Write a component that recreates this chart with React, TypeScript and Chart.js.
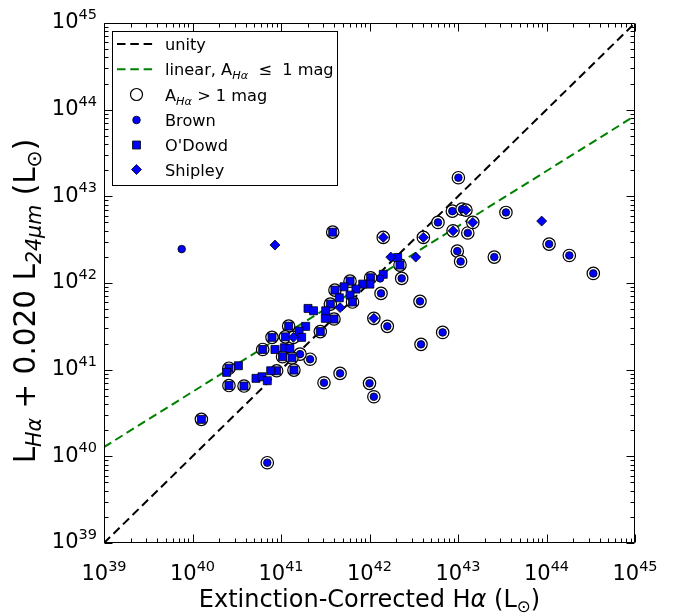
import React, { useEffect, useRef } from 'react';
import { Chart, registerables } from 'chart.js';

Chart.register(...registerables);

// ---------------- data ----------------
const brownX = [7.55e39, 1.01e43, 1.07e44, 1.81e44, 3.38e44, 3.48e43, 2.57e43, 9.82e42, 1.07e43, 3.72e42, 6.71e42, 3.82e42, 8.63e42, 1.11e43, 5.94e42, 1.29e43, 2.31e42, 1.35e42, 1.59e42, 2.13e41, 1.64e41, 4.65e41, 3.06e41, 1.0e42, 1.12e42, 7.0e40, 1.32e42];
const brownY = [2.46e42, 1.64e43, 2.81e42, 2.08e42, 1.29e42, 6.52e42, 1.99e42, 2.33e42, 1.77e42, 6.14e41, 2.69e41, 1.96e41, 6.75e42, 7.11e42, 5.0e42, 3.78e42, 1.13e42, 7.59e41, 3.16e41, 1.32e41, 1.51e41, 9.06e40, 7.06e40, 6.95e40, 4.87e40, 8.44e39, 1.13e42];
const brownExt = [0, 1, 1, 1, 1, 1, 1, 1, 1, 1, 1, 1, 1, 1, 1, 1, 1, 1, 1, 1, 1, 1, 1, 1, 1, 1, 0];

const odowdX = [3.84e41, 2.08e42, 2.21e42, 1.43e42, 1.03e42, 1.01e42, 8.38e41, 6.03e41, 5.15e41, 4.07e41, 7.03e41, 6.03e41, 6.43e41, 4.56e41, 3.61e41, 3.97e41, 3.17e41, 3.2e41, 2.02e41, 2.33e41, 2.78e41, 1.9e41, 1.22e41, 1.6e41, 1.12e41, 7.91e40, 1.71e41, 6.21e40, 8.55e40, 1.09e41, 1.26e41, 1.04e41, 1.33e41, 1.4e41, 8.93e40, 7.65e40, 5.22e40, 6.1e40, 7.0e40, 3.82e40, 2.58e40, 2.58e40, 3.3e40, 2.43e40, 1.26e40];
const odowdY = [3.86e42, 1.97e42, 1.61e42, 1.26e42, 1.15e42, 9.71e41, 9.71e41, 1.05e42, 9.04e41, 8.28e41, 8.51e41, 7.25e41, 6.03e41, 6.75e41, 5.71e41, 3.84e41, 3.91e41, 4.78e41, 5.09e41, 4.78e41, 2.75e41, 3.16e41, 3.18e41, 2.79e41, 2.39e41, 2.36e41, 2.36e41, 1.71e41, 1.71e41, 1.79e41, 1.76e41, 1.41e41, 1.37e41, 9.89e40, 9.71e40, 9.71e40, 7.94e40, 8.28e40, 7.45e40, 6.47e40, 6.56e40, 1.04e41, 1.11e41, 9.31e40, 2.67e40];
const odowdExt = [1, 0, 1, 0, 1, 0, 0, 1, 0, 1, 0, 0, 1, 0, 1, 1, 0, 0, 0, 0, 1, 0, 1, 0, 1, 1, 0, 1, 0, 0, 0, 1, 1, 1, 1, 0, 0, 0, 0, 1, 1, 1, 0, 0, 1];

const shipleyX = [8.55e40, 8.83e43, 1.23e43, 1.47e43, 8.79e42, 4.06e42, 3.33e42, 1.43e42, 1.74e42, 1.12e42, 4.65e41, 1.38e41];
const shipleyY = [2.74e42, 5.18e42, 6.93e42, 5.0e42, 4.0e42, 3.36e42, 1.99e42, 3.36e42, 1.99e42, 3.91e41, 5.2e41, 2.36e41];
const shipleyExt = [0, 0, 1, 1, 1, 1, 0, 1, 0, 1, 0, 1];

const unityX = [1e39, 1e45];
const unityY = [1e39, 1e45];
const linearX = [1e39, 1e45];
const linearY = [1.28e40, 8.5e43];

const tickExponents = [39, 40, 41, 42, 43, 44, 45];
const minorMultipliers = [2, 3, 4, 5, 6, 7, 8, 9];

// ---------------- helpers ----------------
const FONT = '"DejaVu Sans", "Liberation Sans", sans-serif';
type Seg = { t: string; size: number; it?: boolean; dy?: number };

function fontOf(s: Seg) {
  return `${s.it ? 'italic ' : ''}${s.size}px ${FONT}`;
}
function drawSegs(ctx: CanvasRenderingContext2D, segs: Seg[], x: number, y: number, align: 'left' | 'center' | 'right') {
  const widths = segs.map((s) => {
    ctx.font = fontOf(s);
    return ctx.measureText(s.t).width;
  });
  const total = widths.reduce((a, b) => a + b, 0);
  let cx = align === 'left' ? x : align === 'center' ? x - total / 2 : x - total;
  ctx.textAlign = 'left';
  ctx.textBaseline = 'alphabetic';
  segs.forEach((s, i) => {
    ctx.font = fontOf(s);
    ctx.fillText(s.t, cx, y + (s.dy || 0));
    cx += widths[i];
  });
}

function pts(xs: number[], ys: number[]) {
  return xs.map((x, i) => ({ x, y: ys[i] }));
}
function ringPts(xs: number[], ys: number[], f: number[]) {
  return xs.map((x, i) => ({ x, y: ys[i] })).filter((_, i) => f[i] === 1);
}

const BLUE = '#0000ff';
const GREEN = '#008000';
const DASH = [8.5, 4.8];

const framePlugin = {
  id: 'mplFrame',
  afterDatasetsDraw(chart: any) {
    const ctx: CanvasRenderingContext2D = chart.ctx;
    const { left, right, top, bottom } = chart.chartArea;
    const xs = chart.scales.x;
    const ys = chart.scales.y;
    ctx.save();
    ctx.strokeStyle = '#000';
    ctx.lineWidth = 1;
    ctx.beginPath();
    const L = Math.round(left) + 0.5, R = Math.round(right) - 0.5, T = Math.round(top) + 0.5, B = Math.round(bottom) - 0.5;
    ctx.rect(L, T, R - L, B - T);
    ctx.stroke();
    // ticks
    ctx.beginPath();
    const tick = (v: number, len: number) => {
      const px = Math.round(xs.getPixelForValue(v)) + 0.5;
      ctx.moveTo(px, B); ctx.lineTo(px, B - len);
      ctx.moveTo(px, T); ctx.lineTo(px, T + len);
      const py = Math.round(ys.getPixelForValue(v)) + 0.5;
      ctx.moveTo(L, py); ctx.lineTo(L + len, py);
      ctx.moveTo(R, py); ctx.lineTo(R - len, py);
    };
    tickExponents.forEach((e, i) => {
      tick(Math.pow(10, e), 8);
      if (i < tickExponents.length - 1) {
        minorMultipliers.forEach((m) => tick(m * Math.pow(10, e), 4));
      }
    });
    ctx.stroke();
    ctx.restore();
  },
  afterDraw(chart: any) {
    const ctx: CanvasRenderingContext2D = chart.ctx;
    const { left, right } = chart.chartArea;
    const xs = chart.scales.x;
    const ys = chart.scales.y;
    ctx.save();
    ctx.fillStyle = '#000';
    // tick labels
    tickExponents.forEach((e) => {
      const v = Math.pow(10, e);
      const px = xs.getPixelForValue(v);
      drawSegs(ctx, [{ t: '10', size: 21 }, { t: String(e), size: 14.5, dy: -9.3 }], px, 580, 'center');
      const py = ys.getPixelForValue(v);
      drawSegs(ctx, [{ t: '10', size: 21 }, { t: String(e), size: 14.5, dy: -9.3 }], left - 7, py + 5.3, 'right');
    });
    // x axis title
    drawSegs(
      ctx,
      [
        { t: 'Extinction-Corrected H', size: 24 },
        { t: 'α', size: 24, it: true },
        { t: ' (L', size: 24 },
        { t: '⊙', size: 16.8, dy: 5 },
        { t: ')', size: 24 },
      ],
      (left + right) / 2,
      607,
      'center'
    );
    // y axis title
    ctx.save();
    ctx.translate(35, 301);
    ctx.rotate(-Math.PI / 2);
    drawSegs(
      ctx,
      [
        { t: 'L', size: 29.5 },
        { t: 'Hα', size: 20.6, it: true, dy: 6 },
        { t: ' + 0.020 L', size: 29.5 },
        { t: '24μm', size: 20.6, it: true, dy: 6 },
        { t: ' (L', size: 29.5 },
        { t: '⊙', size: 20.6, dy: 6 },
        { t: ')', size: 29.5 },
      ],
      0,
      0,
      'center'
    );
    ctx.restore();

    // legend
    const bx = 112.5, by = 31.5, bw = 225, bh = 154;
    ctx.fillStyle = '#fff';
    ctx.fillRect(bx, by, bw, bh);
    ctx.strokeStyle = '#000';
    ctx.lineWidth = 1;
    ctx.strokeRect(bx, by, bw, bh);
    const rows = [44, 69.3, 94.5, 120, 145, 169.5];
    const lx0 = 117, lx1 = 153, mx = 136.5, tx = 165;
    const lineSample = (y: number, color: string) => {
      ctx.save();
      ctx.strokeStyle = color;
      ctx.lineWidth = 2;
      ctx.setLineDash(DASH);
      ctx.beginPath();
      ctx.moveTo(lx0, y);
      ctx.lineTo(lx1, y);
      ctx.stroke();
      ctx.restore();
    };
    lineSample(rows[0], '#000');
    lineSample(rows[1], GREEN);
    ctx.beginPath();
    ctx.arc(mx, rows[2], 6, 0, Math.PI * 2);
    ctx.fillStyle = '#fff';
    ctx.fill();
    ctx.lineWidth = 1.2;
    ctx.strokeStyle = '#000';
    ctx.stroke();
    ctx.beginPath();
    ctx.arc(mx, rows[3], 3.8, 0, Math.PI * 2);
    ctx.fillStyle = BLUE;
    ctx.fill();
    ctx.lineWidth = 0.8;
    ctx.stroke();
    ctx.beginPath();
    ctx.rect(mx - 4, rows[4] - 4, 8, 8);
    ctx.fill();
    ctx.stroke();
    ctx.beginPath();
    ctx.moveTo(mx - 5, rows[5]);
    ctx.lineTo(mx, rows[5] - 5);
    ctx.lineTo(mx + 5, rows[5]);
    ctx.lineTo(mx, rows[5] + 5);
    ctx.closePath();
    ctx.fill();
    ctx.stroke();

    ctx.fillStyle = '#000';
    const ts = 16.2;
    drawSegs(ctx, [{ t: 'unity', size: ts }], tx, rows[0] + 6, 'left');
    drawSegs(
      ctx,
      [
        { t: 'linear, A', size: ts },
        { t: 'Hα', size: 11.3, it: true, dy: 4 },
        { t: '  ≤  1 mag', size: ts },
      ],
      tx,
      rows[1] + 6,
      'left'
    );
    drawSegs(
      ctx,
      [
        { t: 'A', size: ts },
        { t: 'Hα', size: 11.3, it: true, dy: 4 },
        { t: ' > 1 mag', size: ts },
      ],
      tx,
      rows[2] + 6,
      'left'
    );
    drawSegs(ctx, [{ t: 'Brown', size: ts }], tx, rows[3] + 6, 'left');
    drawSegs(ctx, [{ t: "O'Dowd", size: ts }], tx, rows[4] + 6, 'left');
    drawSegs(ctx, [{ t: 'Shipley', size: ts }], tx, rows[5] + 6, 'left');
    ctx.restore();
  },
};

export default function App() {
  const ref = useRef<HTMLCanvasElement | null>(null);
  useEffect(() => {
    if (!ref.current) return;
    const chart = new Chart(ref.current, {
      type: 'scatter',
      data: {
        datasets: [
          {
            label: 'unity',
            data: pts(unityX, unityY),
            showLine: true,
            borderColor: '#000',
            borderWidth: 2,
            borderDash: DASH,
            pointRadius: 0,
            order: 10,
          },
          {
            label: 'linear, A ≤ 1 mag',
            data: pts(linearX, linearY),
            showLine: true,
            borderColor: GREEN,
            borderWidth: 2,
            borderDash: DASH,
            pointRadius: 0,
            order: 9,
          },
          {
            label: 'A > 1 mag',
            data: [
              ...ringPts(brownX, brownY, brownExt),
              ...ringPts(odowdX, odowdY, odowdExt),
              ...ringPts(shipleyX, shipleyY, shipleyExt),
            ],
            pointStyle: 'circle',
            pointRadius: 6.2,
            pointBackgroundColor: '#ffffff',
            pointBorderColor: '#000',
            pointBorderWidth: 1.2,
            order: 5,
          },
          {
            label: "O'Dowd",
            data: pts(odowdX, odowdY),
            pointStyle: 'rect',
            pointRadius: 5.66,
            pointBackgroundColor: BLUE,
            pointBorderColor: '#000',
            pointBorderWidth: 0.8,
            order: 3,
          },
          {
            label: 'Brown',
            data: pts(brownX, brownY),
            pointStyle: 'circle',
            pointRadius: 3.8,
            pointBackgroundColor: BLUE,
            pointBorderColor: '#000',
            pointBorderWidth: 0.8,
            order: 2,
          },
          {
            label: 'Shipley',
            data: pts(shipleyX, shipleyY),
            pointStyle: 'rectRot',
            pointRadius: 5,
            pointBackgroundColor: BLUE,
            pointBorderColor: '#000',
            pointBorderWidth: 0.8,
            order: 1,
          },
        ],
      },
      options: {
        animation: false,
        responsive: false,
        maintainAspectRatio: false,
        layout: { padding: { left: 104, top: 23, right: 38, bottom: 73 } },
        scales: {
          x: { type: 'logarithmic', min: 1e39, max: 1e45, display: false },
          y: { type: 'logarithmic', min: 1e39, max: 1e45, display: false },
        },
        plugins: {
          legend: { display: false },
          tooltip: { enabled: false },
        },
      },
      plugins: [framePlugin],
    });
    return () => chart.destroy();
  }, []);
  return (
    <div style={{ position: 'fixed', left: 0, top: 0, width: 673, height: 616, background: '#fff' }}>
      <canvas ref={ref} width={673} height={616} style={{ width: 673, height: 616, display: 'block' }} />
    </div>
  );
}
